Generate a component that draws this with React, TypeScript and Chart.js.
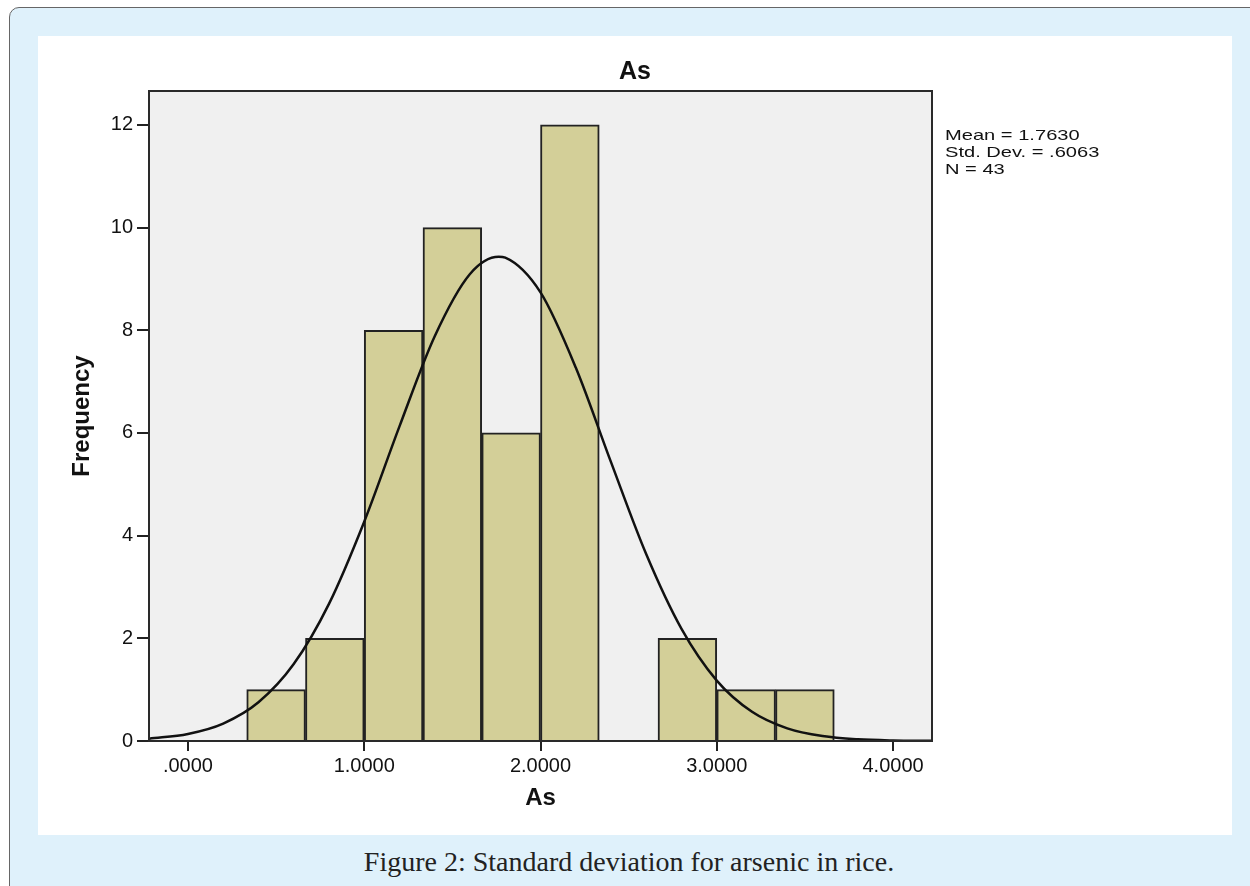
import React, { useEffect, useRef } from "react";
import { Chart, registerables } from "chart.js";

Chart.register(...registerables);

// ---- data ----
const binLower = [0.3333, 0.6667, 1.0, 1.3333, 1.6667, 2.0, 2.3333, 2.6667, 3.0, 3.3333];
const binUpper = [0.6667, 1.0, 1.3333, 1.6667, 2.0, 2.3333, 2.6667, 3.0, 3.3333, 3.6667];
const counts = [1, 2, 8, 10, 6, 12, 0, 2, 1, 1];

const curveX = [-0.22, 0, 0.2, 0.4, 0.6, 0.8, 1.0, 1.2, 1.4, 1.6, 1.763, 1.8, 2.0, 2.2, 2.4, 2.6, 2.8, 3.0, 3.2, 3.4, 3.6, 3.8, 4.0, 4.22];
const curveY = [0.045, 0.138, 0.34, 0.754, 1.498, 2.671, 4.272, 6.128, 7.884, 9.096, 9.431, 9.413, 8.737, 7.274, 5.431, 3.637, 2.184, 1.177, 0.569, 0.246, 0.096, 0.033, 0.010, 0.003];

const xTickValues = [0, 1, 2, 3, 4];
const xTickLabels = [".0000", "1.0000", "2.0000", "3.0000", "4.0000"];
const yTickValues = [0, 2, 4, 6, 8, 10, 12];

const chartTitle = "As";
const xAxisTitle = "As";
const yAxisTitle = "Frequency";
const statsLines = ["Mean = 1.7630", "Std. Dev. = .6063", "N = 43"];
const caption = "Figure 2: Standard deviation for arsenic in rice.";

const FONT = "'Liberation Sans', Arial, sans-serif";

const decorPlugin = {
  id: "decor",
  beforeDraw(chart: any) {
    const { ctx, chartArea: a } = chart;
    ctx.save();
    ctx.fillStyle = "#f0f0f0";
    ctx.fillRect(a.left, a.top, a.right - a.left, a.bottom - a.top);
    ctx.restore();
  },
  afterDatasetsDraw(chart: any) {
    const { ctx, chartArea: a } = chart;
    ctx.save();
    ctx.strokeStyle = "#2a2a2a";
    ctx.lineWidth = 2;
    ctx.strokeRect(a.left, a.top, a.right - a.left, a.bottom - a.top);
    ctx.restore();
  },
  afterDraw(chart: any) {
    const { ctx, chartArea: a, width } = chart;
    ctx.save();
    ctx.fillStyle = "#111";
    ctx.font = `bold 25px ${FONT}`;
    ctx.textAlign = "center";
    ctx.textBaseline = "alphabetic";
    ctx.fillText(chartTitle, width / 2, 43);

    ctx.font = `15px ${FONT}`;
    ctx.textAlign = "left";
    statsLines.forEach((line, i) => {
      ctx.save();
      ctx.translate(a.right + 13, 104 + i * 17);
      ctx.scale(1.34, 1);
      ctx.fillText(line, 0, 0);
      ctx.restore();
    });
    ctx.restore();
  },
};

function HistogramChart() {
  const ref = useRef<HTMLCanvasElement | null>(null);
  useEffect(() => {
    if (!ref.current) return;
    const barData = binLower.map((lo, i) => ({ x: (lo + binUpper[i]) / 2, y: counts[i] }));
    const lineData = curveX.map((x, i) => ({ x, y: curveY[i] }));
    const chart = new Chart(ref.current, {
      type: "bar",
      data: {
        datasets: [
          {
            type: "line",
            data: lineData,
            borderColor: "#111",
            borderWidth: 2.5,
            pointRadius: 0,
            fill: false,
            cubicInterpolationMode: "monotone",
            order: 0,
          } as any,
          {
            type: "bar",
            data: barData,
            backgroundColor: "#d3cf98",
            borderColor: "#222",
            borderWidth: 2,
            barPercentage: 1,
            categoryPercentage: 1,
            order: 1,
          } as any,
        ],
      },
      options: {
        animation: false,
        responsive: false,
        devicePixelRatio: 1,
        layout: { padding: { top: 55, right: 300, left: 0, bottom: 0 } },
        plugins: { legend: { display: false }, tooltip: { enabled: false }, title: { display: false } },
        scales: {
          x: {
            type: "linear",
            min: -0.221,
            max: 4.221,
            offset: false,
            afterBuildTicks: (scale: any) => {
              scale.ticks = xTickValues.map((v) => ({ value: v }));
            },
            afterFit: (scale: any) => {
              scale.height = 94;
            },
            grid: {
              display: true,
              offset: false,
              drawOnChartArea: false,
              drawTicks: true,
              tickLength: 10,
              color: "#222",
              lineWidth: 2,
            },
            border: { display: false },
            ticks: {
              color: "#111",
              font: { family: FONT, size: 20 },
              padding: 3,
              maxRotation: 0,
              autoSkip: false,
              callback: (_v: any, i: number) => xTickLabels[i],
            },
            title: {
              display: true,
              text: xAxisTitle,
              color: "#111",
              font: { family: FONT, size: 24, weight: "bold" },
              padding: { top: 0, bottom: 22 },
            },
          },
          y: {
            type: "linear",
            min: 0,
            max: 12.66,
            afterBuildTicks: (scale: any) => {
              scale.ticks = yTickValues.map((v) => ({ value: v }));
            },
            afterFit: (scale: any) => {
              scale.width = 111;
            },
            grid: {
              display: true,
              offset: false,
              drawOnChartArea: false,
              drawTicks: true,
              tickLength: 12,
              color: "#222",
              lineWidth: 2,
            },
            border: { display: false },
            ticks: {
              color: "#111",
              font: { family: FONT, size: 20 },
              padding: 4,
              autoSkip: false,
              callback: (v: any) => String(v),
            },
            title: {
              display: true,
              text: yAxisTitle,
              color: "#111",
              font: { family: FONT, size: 24, weight: "bold" },
              padding: { top: 30, bottom: 0 },
            },
          },
        },
      },
      plugins: [decorPlugin],
    });
    return () => chart.destroy();
  }, []);
  return <canvas ref={ref} width={1194} height={799} style={{ width: 1194, height: 799, display: "block" }} />;
}

export default function App() {
  return (
    <div style={{ position: "fixed", left: 0, top: 0, width: 1250, height: 886, overflow: "hidden", background: "#ffffff" }}>
      <div
        style={{
          position: "absolute",
          left: 9,
          top: 7,
          width: 1300,
          height: 1000,
          boxSizing: "border-box",
          border: "1.5px solid #666",
          borderRadius: 10,
          background: "#dff1fb",
        }}
      />
      <div style={{ position: "absolute", left: 38, top: 36, width: 1194, height: 799, background: "#ffffff" }}>
        <HistogramChart />
      </div>
      <div
        style={{
          position: "absolute",
          left: 0,
          width: 1258,
          top: 844,
          textAlign: "center",
          fontFamily: "'Liberation Serif', 'DejaVu Serif', serif",
          fontSize: 28,
          lineHeight: "36px",
          color: "#222",
        }}
      >
        {caption}
      </div>
    </div>
  );
}
